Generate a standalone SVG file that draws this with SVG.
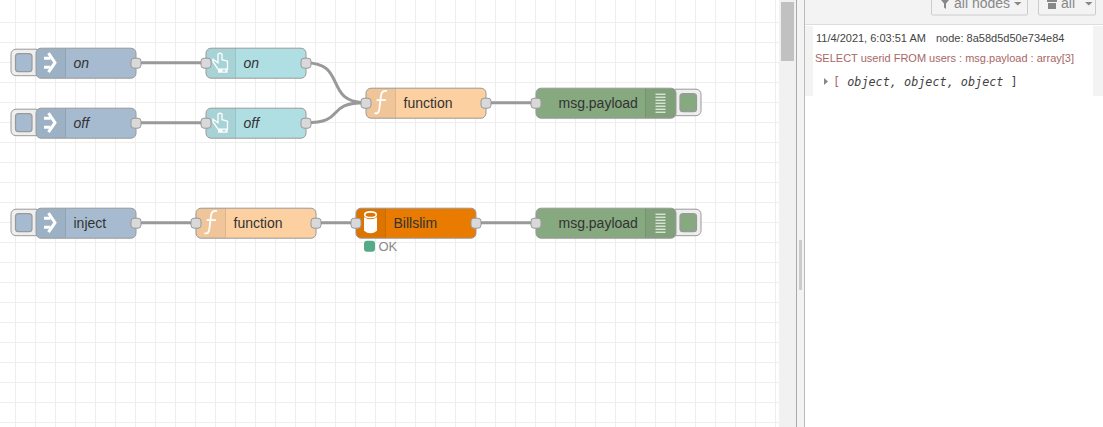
<svg xmlns="http://www.w3.org/2000/svg" width="1103" height="427" viewBox="0 0 1103 427">
<style>
.g{stroke:#eee;stroke-width:1;fill:none}
.w{fill:none;stroke:#999;stroke-width:3}
.n{stroke:#999;stroke-width:1}
.ic{fill:#000;fill-opacity:.05}
.d{stroke:#000;stroke-opacity:.1;stroke-width:1}
.p{fill:#d9d9d9;stroke:#999;stroke-width:1}
.b{fill:#eee;stroke:#999;stroke-width:1}
.in{stroke:#999;stroke-width:1.2}
.t{font:14px "Liberation Sans",Arial,sans-serif;fill:#333}
.i{font-style:italic}
.side{font:11px "Liberation Sans",Arial,sans-serif}
.hd{font:14px "Liberation Sans",Arial,sans-serif;fill:#888}
.w1{fill:#fff}
.wl{fill:none;stroke:#fff}
</style>
<defs>
<g id="arrow"><path class="w1" d="M44.500 57H51V60H44.500ZM44.500 66H51V69H44.500Z"/><path class="wl" stroke-width="3" d="M49 53.500L55.500 63L49 72.500"/></g>
<g id="hand"><path class="wl" stroke-width="1.300" d="M218.500 54.500Q220.500 52.500 222.500 54.500V60L228 61.500V69.500H218.500L213.500 62V59.500L218.500 63Z"/><path class="w1" d="M218.500 69.500H228V73H218.500Z"/><rect x="223" y="70" width="3" height="2" fill="#b0dfe3"/></g>
<g id="deb"><path class="wl" d="M656 94.500H666M656 97.500H666M656 100.500H666M656 103.500H666M656 106.500H666M656 109.500H666M656 112.500H666"/></g>
<path id="eff" class="wl" stroke-width="1.800" d="M387.500 91.500Q382.500 90 381.500 96L380 108Q379.500 115 375 113.500M377 100.500H386.500"/>
</defs>
<rect width="1103" height="427" fill="#fff"/>
<path class="g" d="M15.5 0V427M35.5 0V427M55.5 0V427M75.5 0V427M95.5 0V427M115.5 0V427M135.5 0V427M155.5 0V427M175.5 0V427M195.5 0V427M215.5 0V427M235.5 0V427M255.5 0V427M275.5 0V427M295.5 0V427M315.5 0V427M335.5 0V427M355.5 0V427M375.5 0V427M395.5 0V427M415.5 0V427M435.5 0V427M455.5 0V427M475.5 0V427M495.5 0V427M515.5 0V427M535.5 0V427M555.5 0V427M575.5 0V427M595.5 0V427M615.5 0V427M635.5 0V427M655.5 0V427M675.5 0V427M695.5 0V427M715.5 0V427M735.5 0V427M755.5 0V427M775.5 0V427"/>
<path class="g" d="M0 22.500H779M0 42.500H779M0 62.500H779M0 82.500H779M0 102.500H779M0 122.500H779M0 142.500H779M0 162.500H779M0 182.500H779M0 202.500H779M0 222.500H779M0 242.500H779M0 262.500H779M0 282.500H779M0 302.500H779M0 322.500H779M0 342.500H779M0 362.500H779M0 382.500H779M0 402.500H779M0 422.500H779"/>
<rect x="779" y="0" width="17" height="427" fill="#f1f1f1"/>
<rect x="781" y="2" width="13" height="59" fill="#c1c1c1"/>
<rect x="797" y="0" width="8" height="427" fill="#f3f3f3"/>
<path d="M796.5 0V427" stroke="#aaa"/>
<path d="M804.5 0V427" stroke="#bbb"/>
<rect x="799" y="240" width="3" height="50" fill="#ccc"/>
<rect x="805" y="0" width="298" height="24" fill="#f3f3f3"/>
<path d="M805 24.500H1103" stroke="#ddd"/>
<rect x="931.500" y="-10" width="96" height="25" rx="1" fill="#f3f3f3" stroke="#ccc"/>
<path d="M941 0H949L946 3.500V9L944 7.500V3.500Z" fill="#888"/>
<text class="hd" x="954" y="8">all nodes</text>
<path d="M1014 2H1021.500L1017.750 5.500Z" fill="#888"/>
<rect x="1038.500" y="-10" width="57" height="25" rx="1" fill="#f3f3f3" stroke="#ccc"/>
<path d="M1047 0H1057V2H1047ZM1048 3H1056V9H1048Z" fill="#888"/>
<text class="hd" x="1061" y="8">all</text>
<path d="M1085 2H1092.500L1088.750 5.500Z" fill="#888"/>
<rect x="805" y="26" width="298" height="71" fill="#f3f3f3"/>
<rect x="813" y="26" width="280" height="70" fill="#fff"/>
<path d="M805 96.500H1103" stroke="#fff"/>
<text class="side" x="816" y="42" fill="#444">11/4/2021, 6:03:51 AM</text>
<text class="side" x="936" y="42" fill="#444">node: 8a58d5d50e734e84</text>
<text class="side" x="815" y="62" fill="#a66">SELECT userid FROM users : msg.payload : array[3]</text>
<path d="M824 78L828 81.500L824 85Z" fill="#888"/>
<text x="833" y="86" style="font:11.8px 'DejaVu Sans Mono','Liberation Mono',monospace" fill="#444"><tspan fill="#a66">[</tspan><tspan font-style="italic"> object, object, object </tspan>]</text>

<g transform="translate(-0.5 -0.3)">
<g id="connectors">
<path class="w" d="M136 63H206"/>
<path class="w" d="M136 123H206"/>
<path class="w" d="M306 63C348 63 324 103 366 103"/>
<path class="w" d="M306 123C348 123 324 103 366 103"/>
<path class="w" d="M486 103H536"/>
<path class="w" d="M136 223H196"/>
<path class="w" d="M316 223H356"/>
<path class="w" d="M476 223H536"/>
</g>

<g id="inject-on">
<rect class="b" x="11.500" y="49.500" width="30" height="26.500" rx="5"/><rect class="in" x="16" y="54" width="16.500" height="18" rx="3" fill="#a6bbcf"/>
<rect class="n" x="36.500" y="48.500" width="100" height="30" rx="5" fill="#a6bbcf"/>
<path class="ic" d="M41.500 49H66V78H41.500A5 5 0 0 1 37 73V54A5 5 0 0 1 41.500 49Z"/><path class="d" d="M66 49V78"/>
<use href="#arrow"/>
<text class="t i" x="74" y="68">on</text>
<rect class="p" x="131.500" y="58.500" width="10" height="10" rx="3"/>
</g>
<g id="inject-off">
<rect class="b" x="11.500" y="109.500" width="30" height="26.500" rx="5"/><rect class="in" x="16" y="114" width="16.500" height="18" rx="3" fill="#a6bbcf"/>
<rect class="n" x="36.500" y="108.500" width="100" height="30" rx="5" fill="#a6bbcf"/>
<path class="ic" d="M41.500 109H66V138H41.500A5 5 0 0 1 37 133V114A5 5 0 0 1 41.500 109Z"/><path class="d" d="M66 109V138"/>
<use href="#arrow" y="60"/>
<text class="t i" x="74" y="128">off</text>
<rect class="p" x="131.500" y="118.500" width="10" height="10" rx="3"/>
</g>
<g id="ui-on">
<rect class="n" x="206.500" y="48.500" width="100" height="30" rx="5" fill="#b0dfe3"/>
<path class="ic" d="M211.500 49H236V78H211.500A5 5 0 0 1 207 73V54A5 5 0 0 1 211.500 49Z"/><path class="d" d="M236 49V78"/>
<use href="#hand"/>
<text class="t i" x="244" y="68">on</text>
<rect class="p" x="201.500" y="58.500" width="10" height="10" rx="3"/><rect class="p" x="301.500" y="58.500" width="10" height="10" rx="3"/>
</g>
<g id="ui-off">
<rect class="n" x="206.500" y="108.500" width="100" height="30" rx="5" fill="#b0dfe3"/>
<path class="ic" d="M211.500 109H236V138H211.500A5 5 0 0 1 207 133V114A5 5 0 0 1 211.500 109Z"/><path class="d" d="M236 109V138"/>
<use href="#hand" y="60"/>
<text class="t i" x="244" y="128">off</text>
<rect class="p" x="201.500" y="118.500" width="10" height="10" rx="3"/><rect class="p" x="301.500" y="118.500" width="10" height="10" rx="3"/>
</g>
<g id="function-1">
<rect class="n" x="366.500" y="88.500" width="120" height="30" rx="5" fill="#fdd0a2"/>
<path class="ic" d="M371.500 89H396V118H371.500A5 5 0 0 1 367 113V94A5 5 0 0 1 371.500 89Z"/><path class="d" d="M396 89V118"/>
<use href="#eff"/>
<text class="t" x="404" y="108">function</text>
<rect class="p" x="361.500" y="98.500" width="10" height="10" rx="3"/><rect class="p" x="481.500" y="98.500" width="10" height="10" rx="3"/>
</g>
<g id="debug-1">
<rect class="b" x="671.500" y="89.500" width="30" height="26.500" rx="5"/><rect class="in" x="680.500" y="94" width="16.500" height="18" rx="3" fill="#87a980"/>
<rect class="n" x="536.500" y="88.500" width="140" height="30" rx="5" fill="#87a980"/>
<path class="ic" d="M646 89H671.500A5 5 0 0 1 676 94V113A5 5 0 0 1 671.500 118H646Z"/><path class="d" d="M646 89V118"/>
<use href="#deb"/>
<text class="t" x="559" y="108">msg.payload</text>
<rect class="p" x="531.500" y="98.500" width="10" height="10" rx="3"/>
</g>
<g id="inject-2">
<rect class="b" x="11.500" y="209.500" width="30" height="26.500" rx="5"/><rect class="in" x="16" y="214" width="16.500" height="18" rx="3" fill="#a6bbcf"/>
<rect class="n" x="36.500" y="208.500" width="100" height="30" rx="5" fill="#a6bbcf"/>
<path class="ic" d="M41.500 209H66V238H41.500A5 5 0 0 1 37 233V214A5 5 0 0 1 41.500 209Z"/><path class="d" d="M66 209V238"/>
<use href="#arrow" y="160"/>
<text class="t" x="74" y="228">inject</text>
<rect class="p" x="131.500" y="218.500" width="10" height="10" rx="3"/>
</g>
<g id="function-2">
<rect class="n" x="196.500" y="208.500" width="120" height="30" rx="5" fill="#fdd0a2"/>
<path class="ic" d="M201.500 209H226V238H201.500A5 5 0 0 1 197 233V214A5 5 0 0 1 201.500 209Z"/><path class="d" d="M226 209V238"/>
<use href="#eff" x="-170" y="120"/>
<text class="t" x="234" y="228">function</text>
<rect class="p" x="191.500" y="218.500" width="10" height="10" rx="3"/><rect class="p" x="311.500" y="218.500" width="10" height="10" rx="3"/>
</g>
<g id="billslim">
<rect class="n" x="356.500" y="208.500" width="120" height="30" rx="5" fill="#e97b00"/>
<path class="ic" d="M361.500 209H386V238H361.500A5 5 0 0 1 357 233V214A5 5 0 0 1 361.500 209Z"/><path class="d" d="M386 209V238"/>
<path class="w1" d="M364.500 217.500V231Q371 236 377.500 231V217.500Q371 221.500 364.500 217.500Z"/><ellipse cx="371" cy="215" rx="5.800" ry="2.800" fill="none" stroke="#fff" stroke-width="1.600"/>
<text class="t" x="394" y="228">Billslim</text>
<rect class="p" x="351.500" y="218.500" width="10" height="10" rx="3"/><rect class="p" x="471.500" y="218.500" width="10" height="10" rx="3"/>
<rect x="364.500" y="241" width="11" height="11" rx="3" fill="#5a8"/>
<text x="379" y="251" style="font:13px 'Liberation Sans',Arial,sans-serif" fill="#888">OK</text>
</g>
<g id="debug-2">
<rect class="b" x="671.500" y="209.500" width="30" height="26.500" rx="5"/><rect class="in" x="680.500" y="214" width="16.500" height="18" rx="3" fill="#87a980"/>
<rect class="n" x="536.500" y="208.500" width="140" height="30" rx="5" fill="#87a980"/>
<path class="ic" d="M646 209H671.500A5 5 0 0 1 676 214V233A5 5 0 0 1 671.500 238H646Z"/><path class="d" d="M646 209V238"/>
<use href="#deb" y="120"/>
<text class="t" x="559" y="228">msg.payload</text>
<rect class="p" x="531.500" y="218.500" width="10" height="10" rx="3"/>
</g>
</g>
</svg>
